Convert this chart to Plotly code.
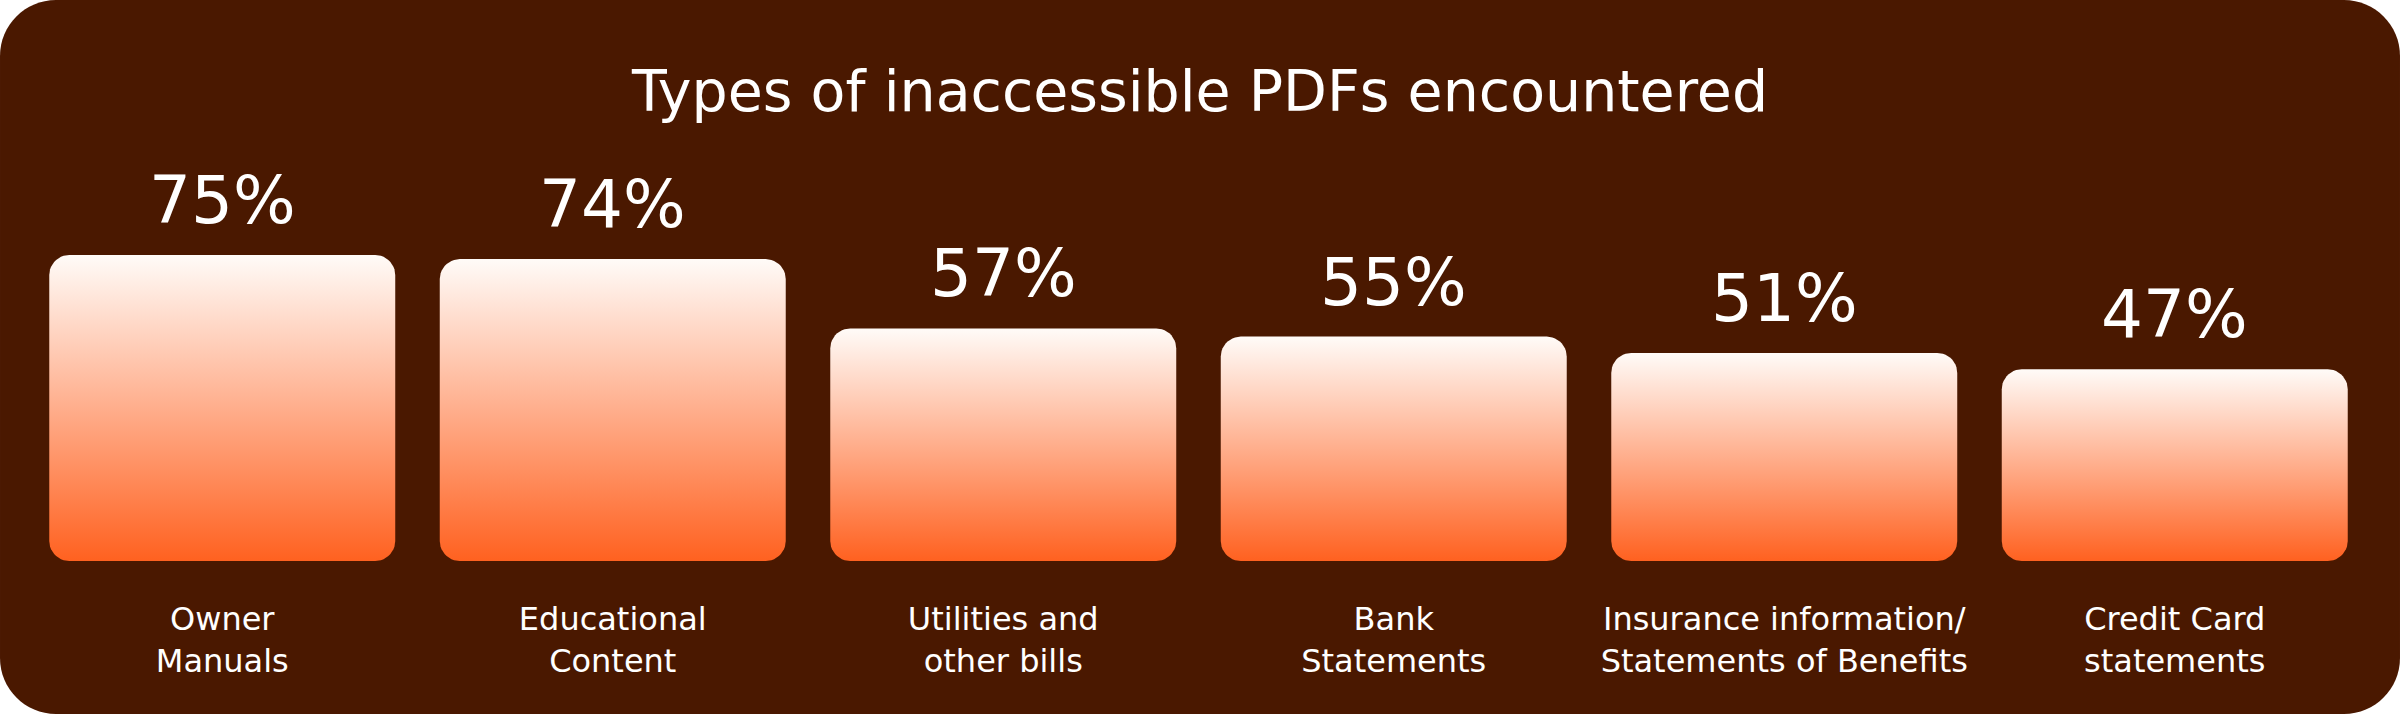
import numpy as np
import plotly.graph_objects as go

# data
categories = [
    "Owner<br>Manuals",
    "Educational<br>Content",
    "Utilities and<br>other bills",
    "Bank<br>Statements",
    "Insurance information/<br>Statements of Benefits",
    "Credit Card<br>statements",
]
values = [75, 74, 57, 55, 51, 47]
value_labels = [f"{v}%" for v in values]

# page geometry (px)
W, H = 2400, 714
M_L, M_R, M_T, M_B = 27, 30, 153, 153
PLOT_W = W - M_L - M_R
PLOT_H = H - M_T - M_B
Y_MAX = 100

BROWN = "#4A1800"
ORANGE = "#FF6120"
WHITE_TOP = "#FFFBF8"
FONT = "DejaVu Sans"

HALF_W = 0.443          # half bar width, in category units
BAR_R = 20              # bar corner radius, px
CARD_R = 56             # background corner radius, px


def rounded_bar(i, v):
    # outline of a bar with rounded corners, in data units
    rx = BAR_R * 6 / PLOT_W
    ry = BAR_R * Y_MAX / PLOT_H
    x0, x1 = i - HALF_W, i + HALF_W
    corners = [(x0 + rx, ry, 180, 270), (x1 - rx, ry, 270, 360),
               (x1 - rx, v - ry, 0, 90), (x0 + rx, v - ry, 90, 180)]
    xs, ys = [], []
    for cx, cy, a0, a1 in corners:
        t = np.radians(np.linspace(a0, a1, 12))
        xs += list(cx + rx * np.cos(t))
        ys += list(cy + ry * np.sin(t))
    return xs + [xs[0]], ys + [ys[0]]


def px_to_paper(px, py):
    return (px - M_L) / PLOT_W, (H - M_B - py) / PLOT_H


def card_path():
    # rounded rectangle covering the whole figure, in paper units
    r = CARD_R
    k = r * (1 - 0.5523)   # cubic handle offset for a circular corner

    def P(x, y):
        a, b = px_to_paper(x, y)
        return f"{a:.5f},{b:.5f}"

    path = f"M {P(r, 0)} L {P(W - r, 0)} C {P(W - k, 0)} {P(W, k)} {P(W, r)} "
    path += f"L {P(W, H - r)} C {P(W, H - k)} {P(W - k, H)} {P(W - r, H)} "
    path += f"L {P(r, H)} C {P(k, H)} {P(0, H - k)} {P(0, H - r)} "
    path += f"L {P(0, r)} C {P(0, k)} {P(k, 0)} {P(r, 0)} Z"
    return path


fig = go.Figure()

for i, v in enumerate(values):
    xs, ys = rounded_bar(i, v)
    fig.add_trace(go.Scatter(
        x=xs, y=ys,
        mode="lines",
        line=dict(width=0),
        fill="toself",
        fillgradient=dict(
            type="vertical",
            colorscale=[[0, ORANGE], [1, WHITE_TOP]],
        ),
        hoverinfo="skip",
        showlegend=False,
    ))
    fig.add_annotation(
        x=i, y=v, text=value_labels[i],
        showarrow=False, yanchor="bottom", yshift=14,
        font=dict(family=FONT, size=66, color="white"),
    )

fig.add_shape(
    type="path", xref="paper", yref="paper",
    path=card_path(), fillcolor=BROWN, line=dict(width=0), layer="below",
)

fig.update_layout(
    width=W, height=H,
    margin=dict(l=M_L, r=M_R, t=M_T, b=M_B),
    paper_bgcolor="white",
    plot_bgcolor="rgba(0,0,0,0)",
    title=dict(
        text="Types of inaccessible PDFs encountered",
        x=0.5, xref="container", xanchor="center",
        y=1 - 91 / H, yref="container", yanchor="middle",
        font=dict(family=FONT, size=57, color="white"),
    ),
    xaxis=dict(
        range=[-0.5, 5.5],
        tickvals=list(range(len(categories))),
        ticktext=categories,
        showgrid=False, zeroline=False, showline=False,
        ticks="", ticklabelstandoff=36,
        tickfont=dict(family=FONT, size=32, color="white"),
        fixedrange=True,
    ),
    yaxis=dict(range=[0, Y_MAX], visible=False, fixedrange=True),
)

# drop the default page margin so the figure sits flush in the window
fig.write_html(
    "out.html",
    config={"displayModeBar": False},
    post_script="document.body.style.margin='0';document.body.style.overflow='hidden';",
)
